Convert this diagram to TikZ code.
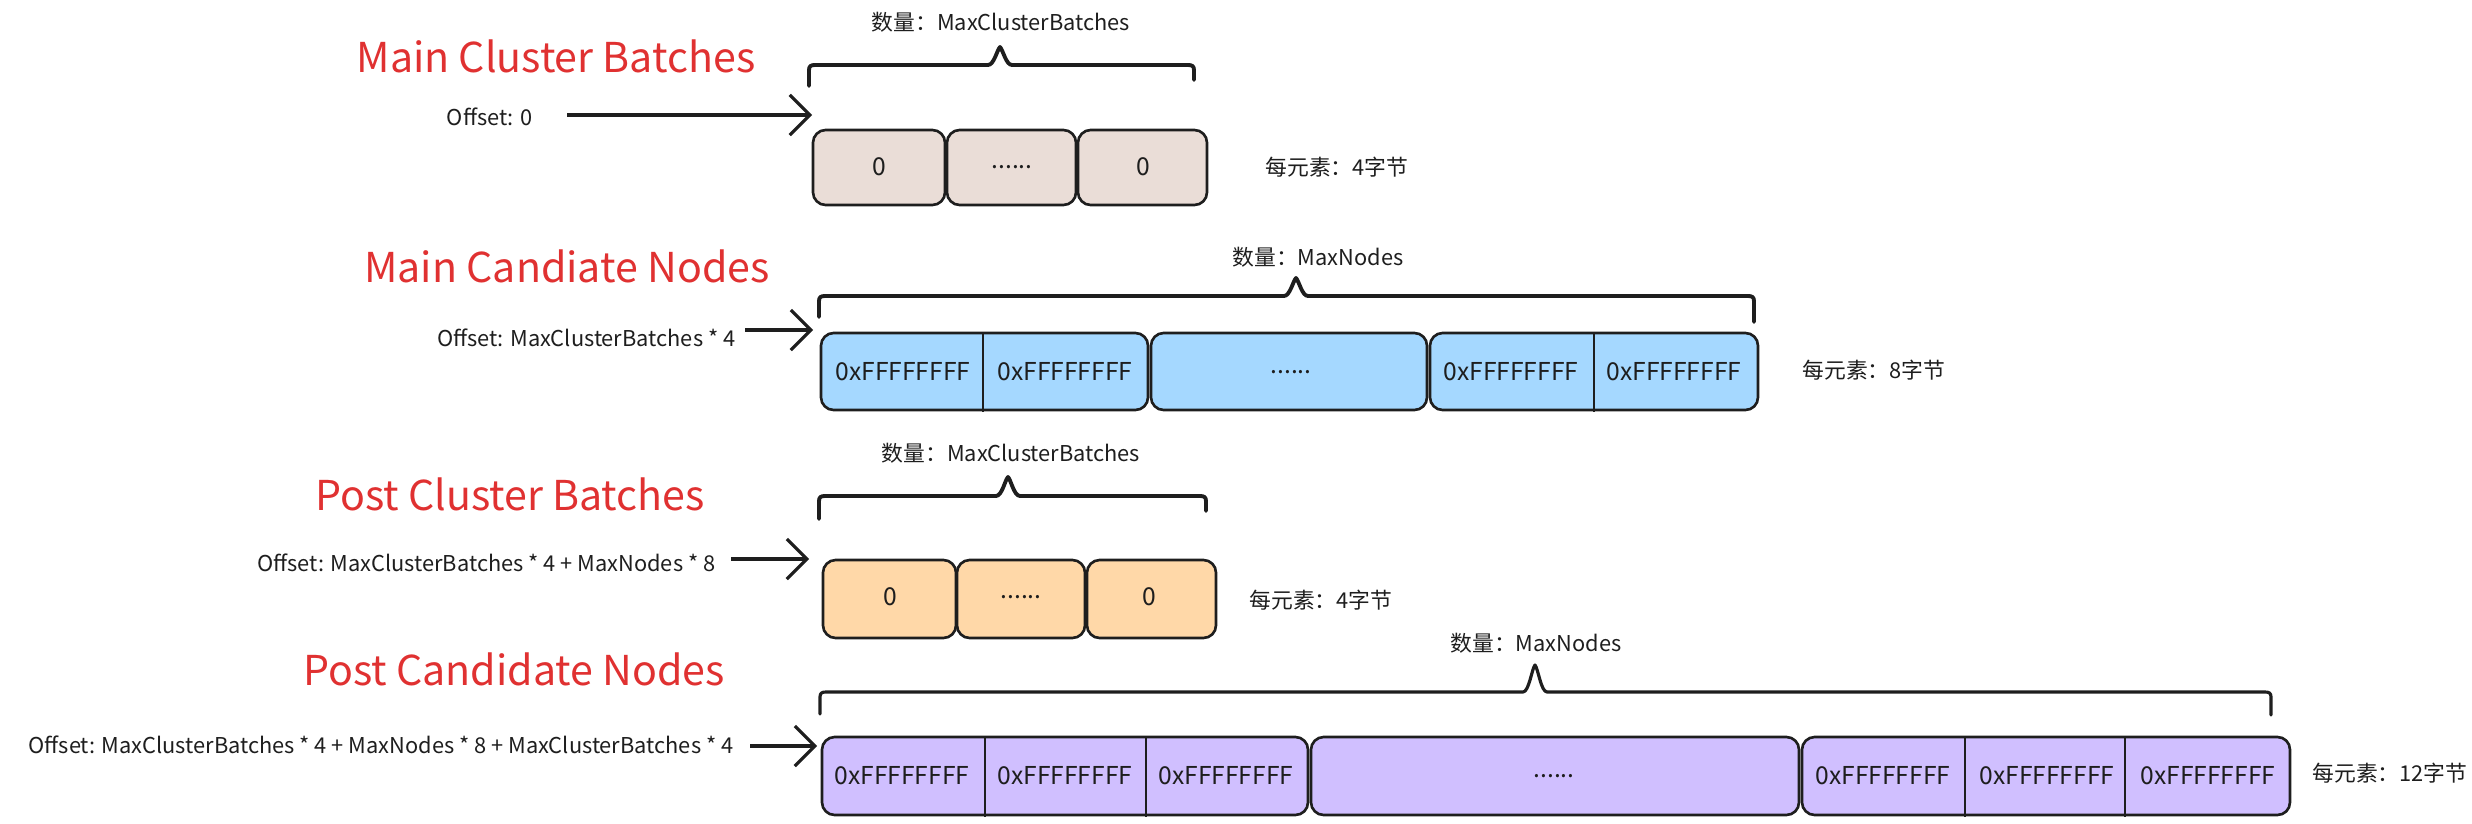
\documentclass[tikz,border=0pt]{standalone}
\usepackage{fontspec}
\setmainfont{Noto Sans CJK SC}
\usetikzlibrary{arrows.meta}
\definecolor{ink}{HTML}{1E1E1E}
\definecolor{titlered}{HTML}{E03131}
\definecolor{fbrown}{HTML}{EADDD7}
\definecolor{fblue}{HTML}{A5D8FF}
\definecolor{forange}{HTML}{FFD8A8}
\definecolor{fviolet}{HTML}{D0BFFF}
\tikzset{
  titletext/.style={text=titlered, font=\fontsize{11.7}{14}\selectfont, anchor=base, inner sep=0pt},
  lbl/.style={text=ink, font=\fontsize{6.2}{8}\selectfont, inner sep=0pt},
  celltext/.style={text=ink, font=\fontsize{7}{8}\selectfont, inner sep=0pt},
  cellbox/.style={draw=ink, line width=0.75pt, rounded corners=3.6pt},
  divider/.style={draw=ink, line width=0.6pt},
  bracepath/.style={draw=ink, line width=1.1pt, line cap=round, line join=round},
  offarrow/.style={draw=ink, line width=0.9pt, -{Straight Barb[length=2mm,width=4mm]}},
}
\newcommand{\mybrace}[8]{% x1 x2 yh yendL yendR xm ypeak width
  \draw[bracepath, line width=#8] (#1,#4) -- (#1,#3+5) .. controls (#1,#3+1) and (#1+2,#3) .. (#1+6,#3)
    -- (#6-12,#3) .. controls (#6-6,#3) and (#6-3,#7+3) .. (#6,#7) .. controls (#6+3,#7+3) and (#6+6,#3) .. (#6+12,#3)
    -- (#2-6,#3) .. controls (#2-2,#3) and (#2,#3+1) .. (#2,#3+5) -- (#2,#5);
}
\begin{document}
\begin{tikzpicture}[x=0.01cm,y=-0.01cm]
\useasboundingbox (0,0) rectangle (2472,824);

% ---------- Row 1: Main Cluster Batches ----------
\node[titletext] (t1) at (556,72) {Main Cluster Batches};
\node[lbl] (c1) at (1001,22) {数量：MaxClusterBatches};
\mybrace{809}{1194}{65}{86}{80}{1000}{47}{1.1pt}
\node[lbl, anchor=east] (o1) at (533,117) {Offset: 0};
\coordinate (a1) at (812,115);
\draw[offarrow] (567,115) -- (a1);
\path[cellbox, fill=fbrown] (813,130) rectangle (945,205);
\path[cellbox, fill=fbrown] (947,130) rectangle (1076,205);
\path[cellbox, fill=fbrown] (1078,130) rectangle (1207,205);
\node[celltext] (r1a) at (879,167) {0};
\node[celltext] (r1b) at (1012,167) {......};
\node[celltext] (r1c) at (1143,167) {0};
\node[lbl] (e1) at (1337,167) {每元素：4字节};

% ---------- Row 2: Main Candiate Nodes ----------
\node[titletext] (t2) at (567,282) {Main Candiate Nodes};
\node[lbl] (c2) at (1318,257) {数量：MaxNodes};
\mybrace{819}{1754}{296}{317}{322}{1296}{278}{1.1pt}
\node[lbl, anchor=east] (o2) at (736,338) {Offset: MaxClusterBatches * 4};
\coordinate (a2) at (813,330);
\draw[offarrow] (745,330) -- (a2);
\path[cellbox, fill=fblue] (821,333) rectangle (1148,410);
\draw[divider] (983,333) -- (983,412);
\path[cellbox, fill=fblue] (1151,333) rectangle (1427,410);
\path[cellbox, fill=fblue] (1430,333) rectangle (1758,410);
\draw[divider] (1594,333) -- (1594,412);
\node[celltext] (r2a) at (903,372) {0xFFFFFFFF};
\node[celltext] (r2b) at (1065,372) {0xFFFFFFFF};
\node[celltext] (r2c) at (1291,372) {......};
\node[celltext] (r2d) at (1511,372) {0xFFFFFFFF};
\node[celltext] (r2e) at (1674,372) {0xFFFFFFFF};
\node[lbl] (e2) at (1874,370) {每元素：8字节};

% ---------- Row 3: Post Cluster Batches ----------
\node[titletext] (t3) at (510,510) {Post Cluster Batches};
\node[lbl] (c3) at (1011,453) {数量：MaxClusterBatches};
\mybrace{819}{1206}{496}{519}{511}{1008}{477}{1.1pt}
\node[lbl, anchor=east] (o3) at (716,563) {Offset: MaxClusterBatches * 4 + MaxNodes * 8};
\coordinate (a3) at (809,559);
\draw[offarrow] (731,559) -- (a3);
\path[cellbox, fill=forange] (823,560) rectangle (956,638);
\path[cellbox, fill=forange] (957,560) rectangle (1085,638);
\path[cellbox, fill=forange] (1087,560) rectangle (1216,638);
\node[celltext] (r3a) at (890,597) {0};
\node[celltext] (r3b) at (1021,597) {......};
\node[celltext] (r3c) at (1149,597) {0};
\node[lbl] (e3) at (1321,600) {每元素：4字节};

% ---------- Row 4: Post Candidate Nodes ----------
\node[titletext] (t4) at (514,685) {Post Candidate Nodes};
\node[lbl] (c4) at (1536,643) {数量：MaxNodes};
\mybrace{820}{2271}{692}{714}{715}{1535}{665}{0.9pt}
\node[lbl, anchor=east] (o4) at (734,745) {Offset: MaxClusterBatches * 4 + MaxNodes * 8 + MaxClusterBatches * 4};
\coordinate (a4) at (817,746);
\draw[offarrow] (750,746) -- (a4);
\path[cellbox, fill=fviolet] (822,737) rectangle (1308,815);
\draw[divider] (985,737) -- (985,817);
\draw[divider] (1146,737) -- (1146,817);
\path[cellbox, fill=fviolet] (1311,737) rectangle (1799,815);
\path[cellbox, fill=fviolet] (1802,737) rectangle (2290,815);
\draw[divider] (1965,737) -- (1965,817);
\draw[divider] (2125,737) -- (2125,817);
\node[celltext] (r4a) at (902,776) {0xFFFFFFFF};
\node[celltext] (r4b) at (1065,776) {0xFFFFFFFF};
\node[celltext] (r4c) at (1226,776) {0xFFFFFFFF};
\node[celltext] (r4d) at (1554,776) {......};
\node[celltext] (r4e) at (1883,776) {0xFFFFFFFF};
\node[celltext] (r4f) at (2047,776) {0xFFFFFFFF};
\node[celltext] (r4g) at (2208,776) {0xFFFFFFFF};
\node[lbl] (e4) at (2390,773) {每元素：12字节};
\end{tikzpicture}
\end{document}
